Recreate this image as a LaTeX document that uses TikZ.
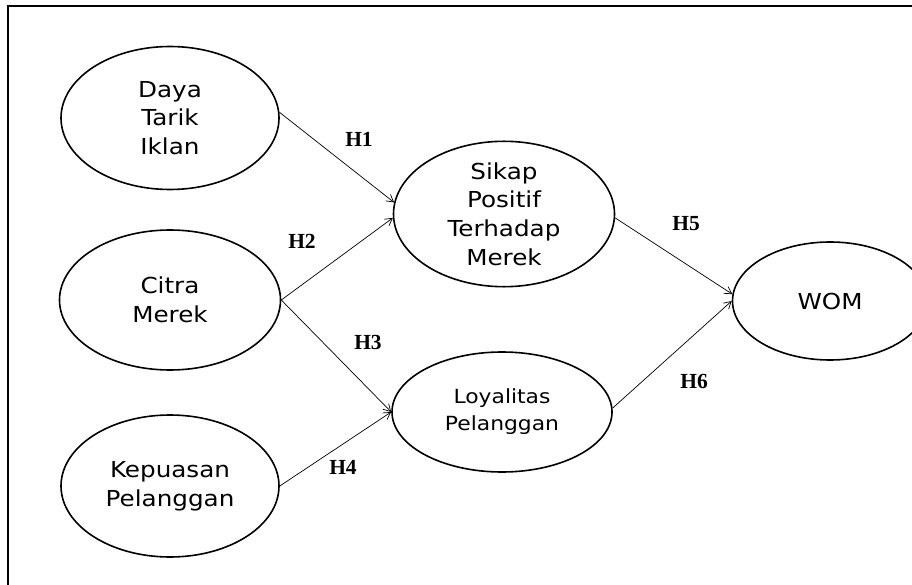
\documentclass[tikz,border=0pt]{standalone}
\usepackage{fontspec}
\usepackage{tikz}
\usetikzlibrary{shapes,arrows.meta,positioning}
\newfontfamily\konstrukfont[FakeStretch=1.12]{DejaVu Sans}
\newfontfamily\hipofont{Liberation Serif}
\tikzset{
  konstruk/.style={draw, ellipse, line width=1.6pt, inner sep=0pt, align=center,
    font=\konstrukfont\fontsize{22}{28.6}\selectfont},
  hipo/.style={font=\hipofont\bfseries\fontsize{21.5}{24}\selectfont, inner sep=0pt},
  jalur/.style={->, line width=0.7pt},
  >={Straight Barb[length=7pt,width=8pt]}
}

\begin{document}
\begin{tikzpicture}[x=1pt,y=-1pt]
  \useasboundingbox (0,0) rectangle (912,585);
  \draw[line width=1.3pt] (8,590) -- (8,6) -- (918,6);

  \node[konstruk, minimum width=218pt, minimum height=143pt] (daya) at (170,118) {Daya\\Tarik\\Iklan};
  \node[konstruk, minimum width=221pt, minimum height=140pt] (citra) at (170,300) {Citra\\Merek};
  \node[konstruk, minimum width=218pt, minimum height=142pt] (puas) at (170,486) {Kepuasan\\Pelanggan};
  \node[konstruk, minimum width=221pt, minimum height=118pt] (sikap) at (504,214) {Sikap\\Positif\\Terhadap\\Merek};
  \node[konstruk, minimum width=220pt, minimum height=120pt,
    font=\konstrukfont\fontsize{19.5}{27}\selectfont] (loyal) at (502,412) {Loyalitas\\Pelanggan};
  \node[konstruk, minimum width=195pt, minimum height=118pt] (wom) at (830,301) {WOM};

  \draw[jalur] (daya.3) -- (sikap.174);
  \draw[jalur] (citra.east) -- (sikap.182);
  \draw[jalur] (citra.east) -- (loyal.west);
  \draw[jalur] (puas.east) -- (loyal.west);
  \draw[jalur] (sikap.358) -- (wom.176);
  \draw[jalur] (loyal.2) -- (wom.west);

  \node[hipo] (h1) at (359,139) {H1};
  \node[hipo] (h2) at (302,241) {H2};
  \node[hipo] (h3) at (368,342) {H3};
  \node[hipo] (h4) at (343,467) {H4};
  \node[hipo] (h5) at (686,224) {H5};
  \node[hipo] (h6) at (694,381) {H6};
\end{tikzpicture}
\end{document}
